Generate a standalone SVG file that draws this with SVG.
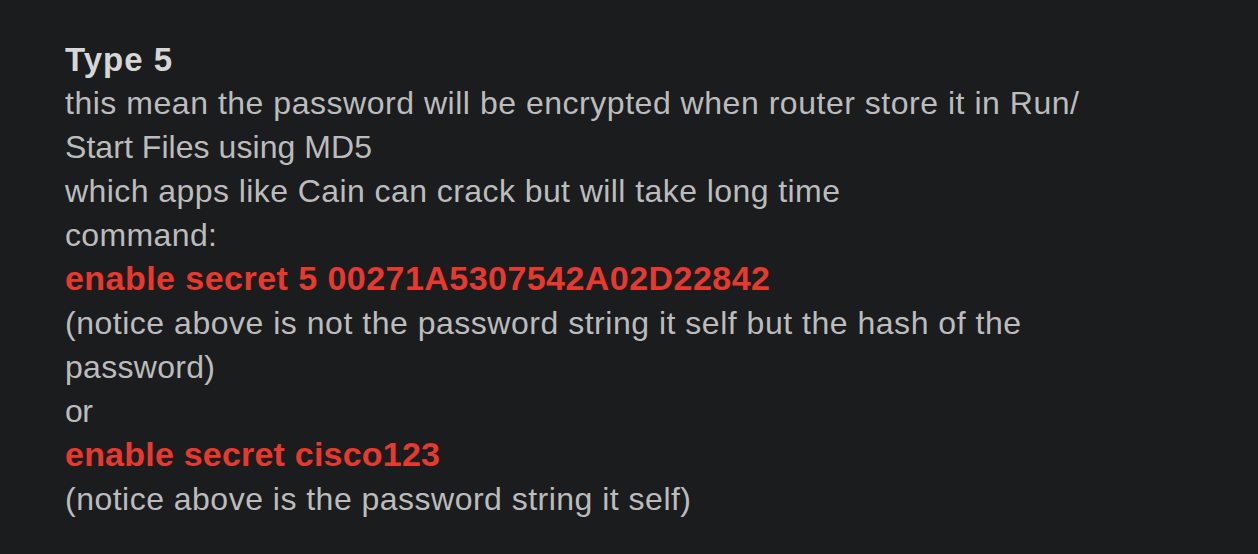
<svg xmlns="http://www.w3.org/2000/svg" width="1258" height="554" viewBox="0 0 1258 554">
<style>
text{font-family:"Liberation Sans",Arial,sans-serif;font-size:32px;fill:#bcbcbc}
.h{font-weight:bold;font-size:33px;fill:#d6d6d6}
.r{font-weight:bold;font-size:34px;fill:#e8392f}
</style>
<rect width="1258" height="554" fill="#1b1c1e"/>
<g id="content">
<text x="65" y="71" class="h" textLength="107" lengthAdjust="spacing">Type 5</text>
<text x="65" y="114" textLength="1014" lengthAdjust="spacing">this mean the password will be encrypted when router store it in Run/</text>
<text x="65" y="158" textLength="307" lengthAdjust="spacing">Start Files using MD5</text>
<text x="65" y="202" textLength="775" lengthAdjust="spacing">which apps like Cain can crack but will take long time</text>
<text x="65" y="246" textLength="152" lengthAdjust="spacing">command:</text>
<text x="65" y="290" class="r" textLength="705" lengthAdjust="spacing">enable secret 5 00271A5307542A02D22842</text>
<text x="65" y="334" textLength="956" lengthAdjust="spacing">(notice above is not the password string it self but the hash of the</text>
<text x="65" y="378" textLength="150" lengthAdjust="spacing">password)</text>
<text x="65" y="422" textLength="28" lengthAdjust="spacing">or</text>
<text x="65" y="466" class="r" textLength="375" lengthAdjust="spacing">enable secret cisco123</text>
<text x="65" y="510" textLength="626" lengthAdjust="spacing">(notice above is the password string it self)</text>
</g>
</svg>
